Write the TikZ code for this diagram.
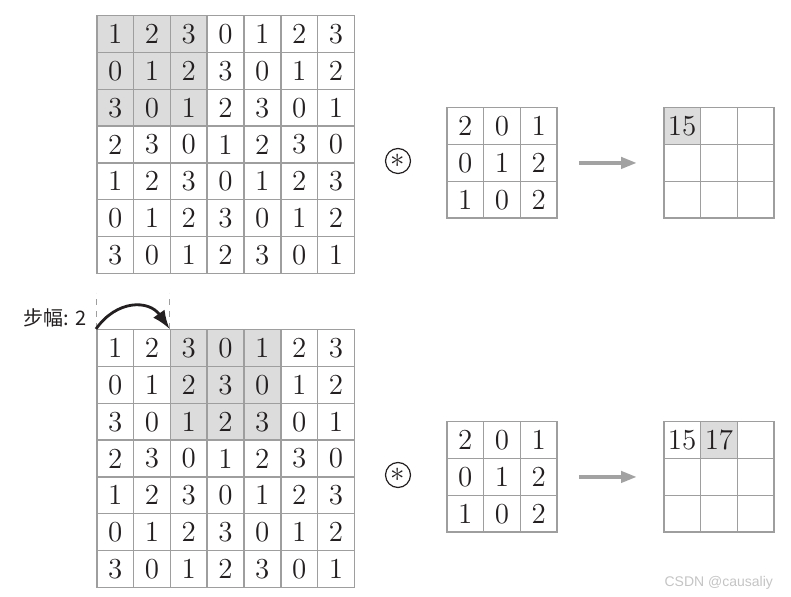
\documentclass[tikz,border=0pt]{standalone}
\usepackage{fontspec}
\newfontfamily\cjk{Noto Sans CJK SC}
\newfontfamily\wmfont{Liberation Sans}
\usetikzlibrary{arrows.meta,positioning}
\definecolor{ink}{HTML}{231F20}
\definecolor{gridline}{HTML}{9E9E9E}
\definecolor{shade}{HTML}{DCDCDC}
\definecolor{flowgray}{HTML}{A2A2A2}
\definecolor{wmgray}{HTML}{C4C4C4}
\tikzset{
  >=Latex,
  every node/.style={text=ink},
  cell/.style={draw=gridline,line width=0.75pt,minimum size=18.4pt,inner sep=0pt,anchor=north west,font=\fontsize{14.5}{17}\selectfont},
  hot/.style={cell,fill=shade},
  opcirc/.style={circle,draw=ink,line width=0.6pt,minimum size=12.5pt,inner sep=0pt,font=\fontsize{13.5}{13.5}\selectfont},
  flowarr/.style={-{Triangle[length=8pt,width=5.5pt]},line width=2pt,draw=flowgray},
  stridearr/.style={->,line width=1.4pt,draw=ink},
  guide/.style={draw=gridline,dashed,line width=0.4pt},
  stridelbl/.style={font=\cjk\fontsize{10}{12}\selectfont},
  wmark/.style={font=\wmfont\fontsize{7}{8}\selectfont,text=wmgray}
}
\begin{document}
\begin{tikzpicture}[x=0.5pt,y=-0.5pt]
  \useasboundingbox (0,0) rectangle (791,597);

  % input grids (top: window at col 0, bottom: window at col 2)
  \foreach \pre/\oy/\hc in {top/15/0,bot/329/2}{
    \foreach \row [count=\r from 0] in {{1,2,3,0,1,2,3},{0,1,2,3,0,1,2},{3,0,1,2,3,0,1},{2,3,0,1,2,3,0},{1,2,3,0,1,2,3},{0,1,2,3,0,1,2},{3,0,1,2,3,0,1}}{
      \foreach \v [count=\c from 0] in \row{
        \pgfmathtruncatemacro\ishot{(\r<3)&&(\c>=\hc)&&(\c<\hc+3)?1:0}
        \ifnum\ishot=1 \def\sty{hot}\else\def\sty{cell}\fi
        \node[\sty] (\pre-\r-\c) at ({96+36.8*\c},{\oy+36.8*\r}) {\v};
      }
    }
  }

  % kernels
  \foreach \pre/\oy in {kA/107,kB/421}{
    \foreach \row [count=\r from 0] in {{2,0,1},{0,1,2},{1,0,2}}{
      \foreach \v [count=\c from 0] in \row
        \node[cell] (\pre-\r-\c) at ({446+36.8*\c},{\oy+36.8*\r}) {\v};
    }
  }

  % outputs
  \foreach \pre/\oy in {oA/107,oB/421}{
    \foreach \r in {0,1,2}{
      \foreach \c in {0,1,2}
        \node[cell] (\pre-\r-\c) at ({663+36.8*\c},{\oy+36.8*\r}) {};
    }
  }
  \node[hot] at (oA-0-0.north west) {15};
  \node[cell] at (oB-0-0.north west) {15};
  \node[hot] at (oB-0-1.north west) {17};

  % convolution operators and arrows
  \node[opcirc] (convA) at (398,161) {$\ast$};
  \node[opcirc] (convB) at (398,475) {$\ast$};
  \draw[flowarr,shorten <=10.5pt,shorten >=13pt] (kA-1-2.east) -- (oA-1-0.west);
  \draw[flowarr,shorten <=10.5pt,shorten >=13pt] (kB-1-2.east) -- (oB-1-0.west);

  % stride
  \draw[guide] (bot-0-0.north west) -- ++(0,-36);
  \draw[guide] (bot-0-2.north west) -- ++(0,-36);
  \draw[stridearr] (bot-0-0.north west) to[out=55,in=125,looseness=1.25] (bot-0-2.north west);
  \node[stridelbl] (stride) at (55,318) {步幅: 2};

  \node[wmark,anchor=east] (wm) at (780,583) {CSDN @causaliy};
\end{tikzpicture}
\end{document}
